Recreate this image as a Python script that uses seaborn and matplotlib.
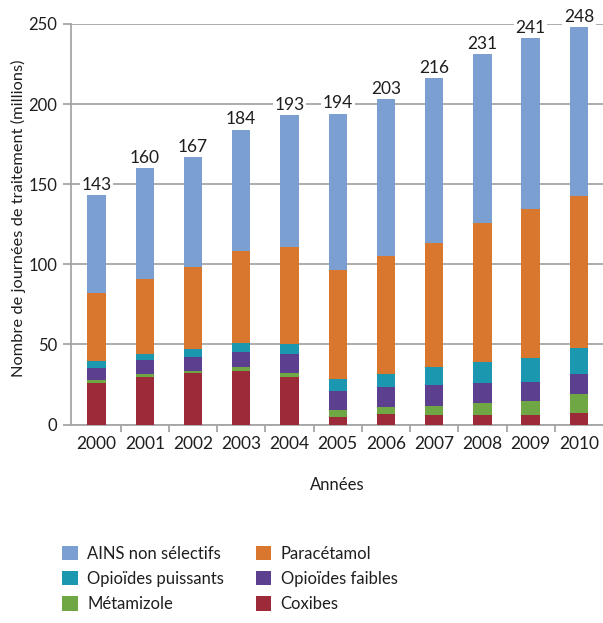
import matplotlib
matplotlib.use("Agg")
import matplotlib.pyplot as plt
from matplotlib.patches import Patch
from matplotlib.ticker import FixedLocator
import numpy as np
import pandas as pd
import seaborn as sns

years = ["2000", "2001", "2002", "2003", "2004", "2005",
         "2006", "2007", "2008", "2009", "2010"]
totals = [143, 160, 167, 184, 193, 194, 203, 216, 231, 241, 248]

# Segments, bottom to top (millions of treatment days)
coxibes = [25.7, 29.8, 32.0, 33.6, 29.8, 4.5, 6.4, 6.2, 6.0, 6.0, 7.4]
metamizole = [2.1, 1.7, 1.7, 2.5, 2.5, 4.6, 4.4, 5.4, 7.6, 8.9, 11.5]
opioides_faibles = [7.4, 8.7, 8.3, 9.3, 11.5, 11.8, 12.6, 12.9, 12.5, 11.8, 12.4]
opioides_puissants = [4.4, 3.8, 5.4, 5.2, 6.2, 7.3, 8.1, 11.6, 13.1, 14.8, 16.2]
paracetamol = [42.8, 46.8, 51.0, 57.7, 61.0, 68.5, 73.5, 77.4, 86.8, 92.9, 95.3]
# AINS non sélectifs fill the remainder up to the stated total
ains = [t - (a + b + c + d + e) for t, a, b, c, d, e in
        zip(totals, coxibes, metamizole, opioides_faibles,
            opioides_puissants, paracetamol)]

series_names = ["Coxibes", "Métamizole", "Opioïdes faibles",
                "Opioïdes puissants", "Paracétamol", "AINS non sélectifs"]
series_values = [coxibes, metamizole, opioides_faibles,
                 opioides_puissants, paracetamol, ains]
colors = {
    "AINS non sélectifs": "#7b9fd1",
    "Paracétamol": "#d9772f",
    "Opioïdes puissants": "#1c97b0",
    "Opioïdes faibles": "#5c3f8e",
    "Métamizole": "#6fa745",
    "Coxibes": "#9c2a38",
}

sns.set_theme(style="white")
plt.rcParams["font.family"] = ["Lato", "DejaVu Sans"]
text_color = "#1e1e1e"
grid_color = "#a6a6a6"

fig = plt.figure(figsize=(6.03, 6.23), dpi=100)
ax = fig.add_axes([0.1177, 0.3185, 0.8823, 0.643])

# Cumulative heights, drawn tallest first so each lower segment overlays it
cum = np.cumsum(np.array(series_values), axis=0)
for name, heights in reversed(list(zip(series_names, cum))):
    df = pd.DataFrame({"year": years, "value": heights})
    sns.barplot(data=df, x="year", y="value", order=years,
                color=colors[name], saturation=1, width=0.38,
                edgecolor="none", linewidth=0, ax=ax, zorder=3)

for i, t in enumerate(totals):
    ax.text(i, t + 1.5, str(t), ha="center", va="bottom", fontsize=12.5,
            color=text_color, zorder=5,
            bbox=dict(facecolor="white", edgecolor="none", pad=1.2))

ax.set_ylim(0, 250)
ax.set_xlim(-0.53, 10.5)
ax.set_yticks(np.arange(0, 251, 50))
ax.yaxis.grid(True, color=grid_color, linewidth=1.3, zorder=0)
ax.set_axisbelow(True)

for side in ["top", "right"]:
    ax.spines[side].set_visible(False)
for side in ["left", "bottom"]:
    ax.spines[side].set_color(grid_color)
    ax.spines[side].set_linewidth(1.3)

ax.tick_params(axis="y", which="major", left=True, length=6, width=1.3,
               color=grid_color, labelsize=12, labelcolor=text_color,
               direction="out", pad=4)
ax.tick_params(axis="x", which="major", bottom=False, labelsize=12.5,
               labelcolor=text_color, pad=2)
ax.xaxis.set_minor_locator(FixedLocator(np.arange(0.5, 10.0, 1.0)))
ax.tick_params(axis="x", which="minor", bottom=True, length=5, width=1.3,
               color=grid_color, direction="out")

ax.set_xlabel("Années", fontsize=12, color=text_color, labelpad=18)
ax.set_ylabel("Nombre de journées de traitement (millions)", fontsize=11.8,
              color=text_color)
ax.yaxis.set_label_coords(-0.084, 0.515)

legend_order = ["AINS non sélectifs", "Opioïdes puissants", "Métamizole",
                "Paracétamol", "Opioïdes faibles", "Coxibes"]
handles = [Patch(facecolor=colors[n], edgecolor="none", label=n)
           for n in legend_order]
fig.legend(handles=handles, loc="upper left", ncol=2,
           bbox_to_anchor=(0.078, 0.148),
           frameon=False, fontsize=12, labelcolor=text_color,
           handlelength=0.95, handleheight=0.95, handletextpad=0.55,
           columnspacing=1.9, labelspacing=0.55)

fig.savefig("out.png", dpi=100, facecolor="white")
